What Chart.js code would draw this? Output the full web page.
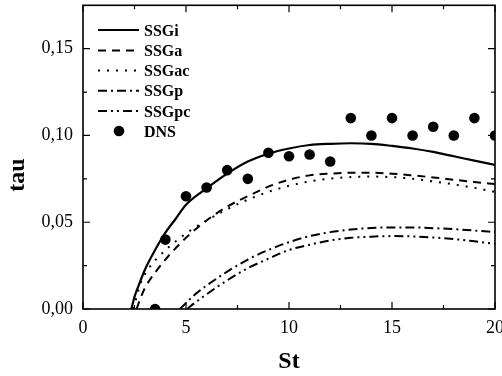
<!DOCTYPE html>
<html><head><meta charset="utf-8">
<script src="https://cdn.jsdelivr.net/npm/chart.js@4.4.0/dist/chart.umd.min.js"></script>
<style>html,body{margin:0;padding:0;background:#fff}#wrap{width:502px;height:376px}</style>
</head><body><div id="wrap"><canvas id="c" width="502" height="376"></canvas></div>
<script>
// ---- data ----
const ssgiSt  = [2.35, 2.5, 2.75, 3, 3.5, 4, 4.5, 5, 6, 7, 8, 9, 10, 11, 12, 13, 14, 15, 16, 17, 18, 19, 20];
const ssgiTau = [0, 0.007, 0.015, 0.0225, 0.034, 0.044, 0.052, 0.060, 0.0695, 0.078, 0.085, 0.0895, 0.0925, 0.0945, 0.0952, 0.0955, 0.0952, 0.094, 0.0925, 0.0905, 0.088, 0.0855, 0.083];

const ssgaSt  = [2.6, 2.8, 3, 3.5, 4, 5, 6, 7, 8, 9, 10, 11, 12, 13, 14, 15, 16, 17, 18, 19, 20];
const ssgaTau = [0, 0.0065, 0.012, 0.021, 0.0285, 0.041, 0.051, 0.059, 0.065, 0.0705, 0.0745, 0.077, 0.078, 0.0785, 0.0785, 0.078, 0.077, 0.0758, 0.0745, 0.0732, 0.072];

const ssgacSt  = [2.45, 2.6, 2.8, 3.2, 3.7, 4.4, 5, 6, 7, 8, 9, 10, 11, 12, 13, 14, 15, 16, 17, 18, 19, 20];
const ssgacTau = [0, 0.007, 0.015, 0.0235, 0.0305, 0.038, 0.0435, 0.051, 0.0575, 0.063, 0.0675, 0.071, 0.0735, 0.0752, 0.076, 0.0763, 0.076, 0.075, 0.0735, 0.0718, 0.0698, 0.0675];

const ssgpSt  = [4.7, 5, 5.5, 6, 7, 8, 9, 10, 11, 12, 13, 14, 15, 16, 17, 18, 19, 20];
const ssgpTau = [0, 0.0035, 0.009, 0.0135, 0.0215, 0.0285, 0.034, 0.0385, 0.042, 0.0443, 0.0458, 0.0467, 0.047, 0.047, 0.0466, 0.046, 0.0452, 0.0443];

const ssgpcSt  = [5.05, 5.5, 6, 7, 8, 9, 10, 11, 12, 13, 14, 15, 16, 17, 18, 19, 20];
const ssgpcTau = [0, 0.0042, 0.0085, 0.0165, 0.0235, 0.029, 0.034, 0.037, 0.0395, 0.041, 0.0417, 0.042, 0.0418, 0.0412, 0.0403, 0.039, 0.0376];

const dnsSt  = [3.5, 4, 5, 6, 7, 8, 9, 10, 11, 12, 13, 14, 15, 16, 17, 18, 19, 20];
const dnsTau = [0.0, 0.040, 0.065, 0.070, 0.080, 0.075, 0.090, 0.088, 0.089, 0.085, 0.110, 0.100, 0.110, 0.100, 0.105, 0.100, 0.110, 0.100];

const seriesNames = ['SSGi', 'SSGa', 'SSGac', 'SSGp', 'SSGpc', 'DNS'];
const xMajorTicks = [0, 5, 10, 15, 20];
const xMinorTicks = [2.5, 7.5, 12.5, 17.5];
const yMajorTicks = [0, 0.05, 0.10, 0.15];
const yMinorTicks = [0.025, 0.075, 0.125];
const xTitle = 'St';
const yTitle = 'tau';

// ---- styles ----
const SERIF = "'Liberation Serif', 'Times New Roman', serif";
const dashes = [[], [8, 6], [2, 7], [9, 4, 2, 4], [9, 4, 2, 4, 2, 4]];

function pts(xs, ys) { return xs.map((x, i) => ({x: x, y: ys[i]})); }
const curveData = [pts(ssgiSt, ssgiTau), pts(ssgaSt, ssgaTau), pts(ssgacSt, ssgacTau), pts(ssgpSt, ssgpTau), pts(ssgpcSt, ssgpcTau)];

const datasets = curveData.map((d, i) => ({
  label: seriesNames[i], data: d, showLine: true, pointRadius: 0,
  borderColor: '#000', borderWidth: i === 0 ? 2.2 : 2, borderDash: dashes[i],
  cubicInterpolationMode: 'monotone', fill: false, clip: 0
}));
datasets.push({
  label: seriesNames[5], data: pts(dnsSt, dnsTau), showLine: false,
  pointRadius: 5.3, pointBackgroundColor: '#000', pointBorderWidth: 0, backgroundColor: '#000', clip: 0
});

const framePlugin = {
  id: 'frame',
  afterDraw(chart) {
    const ctx = chart.ctx, a = chart.chartArea, xs = chart.scales.x, ys = chart.scales.y;
    ctx.save();
    ctx.strokeStyle = '#000';
    ctx.lineWidth = 1.6;
    ctx.setLineDash([]);
    ctx.strokeRect(a.left, a.top, a.right - a.left, a.bottom - a.top);
    ctx.lineWidth = 1.2;
    const tx = (v, len) => { const p = xs.getPixelForValue(v);
      ctx.beginPath(); ctx.moveTo(p, a.bottom); ctx.lineTo(p, a.bottom - len);
      ctx.moveTo(p, a.top); ctx.lineTo(p, a.top + len); ctx.stroke(); };
    const ty = (v, len) => { const p = ys.getPixelForValue(v);
      ctx.beginPath(); ctx.moveTo(a.left, p); ctx.lineTo(a.left + len, p);
      ctx.moveTo(a.right, p); ctx.lineTo(a.right - len, p); ctx.stroke(); };
    xMajorTicks.forEach(v => tx(v, 7)); xMinorTicks.forEach(v => tx(v, 4));
    yMajorTicks.forEach(v => ty(v, 7)); yMinorTicks.forEach(v => ty(v, 4));

    // legend
    const rowY = [30, 50.5, 70.5, 90.7, 111, 131];
    ctx.font = 'bold 16px ' + SERIF;
    ctx.fillStyle = '#000';
    ctx.textBaseline = 'alphabetic';
    ctx.textAlign = 'left';
    seriesNames.forEach((name, i) => {
      const y = rowY[i];
      if (i < 5) {
        ctx.lineWidth = 2; ctx.setLineDash(dashes[i]);
        ctx.beginPath(); ctx.moveTo(98, y); ctx.lineTo(139, y); ctx.stroke();
        ctx.setLineDash([]);
      } else {
        ctx.beginPath(); ctx.arc(119, y, 5.3, 0, Math.PI * 2); ctx.fill();
      }
      ctx.fillText(name, 144, y + 5.5);
    });

    // y title
    ctx.save();
    ctx.translate(18, 175);
    ctx.rotate(-Math.PI / 2);
    ctx.font = 'bold 24px ' + SERIF;
    ctx.textAlign = 'center'; ctx.textBaseline = 'middle';
    ctx.fillText(yTitle, 0, 0);
    ctx.restore();
    ctx.restore();
  }
};

Chart.defaults.font.family = SERIF;
new Chart(document.getElementById('c'), {
  type: 'scatter',
  data: {datasets: datasets},
  options: {
    responsive: false, animation: false, devicePixelRatio: 1,
    layout: {padding: {top: 5, right: 7, left: 0, bottom: 0}},
    plugins: {legend: {display: false}, tooltip: {enabled: false}},
    scales: {
      x: {
        type: 'linear', min: 0, max: 20,
        afterBuildTicks: s => { s.ticks = xMajorTicks.map(v => ({value: v})); },
        afterFit: s => { s.height = 67; s.paddingLeft = 0; s.paddingRight = 0; },
        grid: {display: false, drawTicks: false}, border: {display: false},
        ticks: {color: '#000', font: {size: 18, family: SERIF}, padding: 8, maxRotation: 0, autoSkip: false},
        title: {display: true, text: xTitle, color: '#000', font: {size: 24, weight: 'bold', family: SERIF}, padding: {top: 0, bottom: 0}}
      },
      y: {
        type: 'linear', min: 0, max: 0.175,
        afterBuildTicks: s => { s.ticks = yMajorTicks.map(v => ({value: v})); },
        afterFit: s => { s.width = 83; s.paddingTop = 0; s.paddingBottom = 0; },
        grid: {display: false, drawTicks: false}, border: {display: false},
        ticks: {color: '#000', font: {size: 18, family: SERIF}, padding: 10, autoSkip: false,
          callback: v => v.toFixed(2).replace('.', ',')}
      }
    }
  },
  plugins: [framePlugin]
});
</script>
</body></html>
